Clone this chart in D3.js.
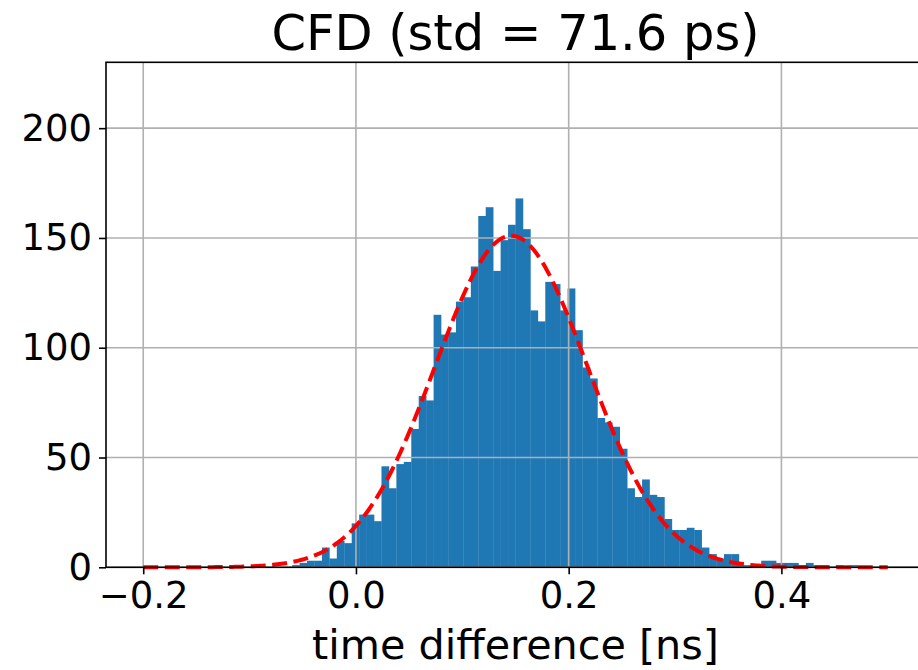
<!DOCTYPE html>
<html>
<head>
<meta charset="utf-8">
<script src="https://cdn.jsdelivr.net/npm/d3@7"></script>
<style>
  body { margin: 0; background: #fff; }
  text { font-family: "DejaVu Sans", sans-serif; fill: #000; }
</style>
</head>
<body>
<div id="chart"></div>
<script>
var w = 918;
var h = 670;

// histogram: 100 bins over [-0.2, 0.5] ns
var histRange = [-0.2, 0.5];
var counts = [
    0, 0, 0, 0, 0, 0, 0, 0, 0, 0,
    0, 0, 0, 0, 0, 1, 0, 0, 0, 0,
    1, 2, 3, 3, 9, 4, 12, 11, 20, 24,
    24, 21, 46, 36, 47, 48, 63, 78, 76, 115,
    106, 107, 121, 123, 137, 160, 164, 135, 149, 156,
    168, 154, 117, 112, 130, 129, 117, 127, 108, 91,
    86, 68, 66, 64, 54, 36, 32, 40, 33, 32,
    22, 17, 17, 18, 17, 9, 6, 4, 6, 6,
    1, 1, 1, 3, 3, 2, 2, 2, 0, 2,
    1, 1, 0, 1, 0, 1, 0, 0, 0, 0
];

// gaussian fit
var fitAmp = 151;
var fitMean = 0.146;
var fitSigma = 0.0716;

var xTicks = [-0.2, 0.0, 0.2, 0.4];
var yTicks = [0, 50, 100, 150, 200];
var title = "CFD (std = 71.6 ps)";
var xLabel = "time difference [ns]";

var margin = {left: 106, right: -7, top: 62.3, bottom: 102.7};

var x = d3.scaleLinear()
    .domain([-0.235, 0.535])
    .range([margin.left, w - margin.right]);

var y = d3.scaleLinear()
    .domain([0, 230])
    .range([h - margin.bottom, margin.top]);

var svg = d3.select("#chart")
    .append("svg")
    .attr("width", w)
    .attr("height", h);

var nBins = counts.length;
var bw = (histRange[1] - histRange[0]) / nBins;
var bins = counts.map(function(c, i) {
    return {x0: histRange[0] + i * bw, x1: histRange[0] + (i + 1) * bw, n: c};
});

// bars
svg.append("g")
    .selectAll("rect")
    .data(bins.filter(function(d) { return d.n > 0; }))
    .enter()
    .append("rect")
    .attr("x", function(d) { return x(d.x0); })
    .attr("width", function(d) { return x(d.x1) - x(d.x0) + 0.3; })
    .attr("y", function(d) { return y(d.n); })
    .attr("height", function(d) { return y(0) - y(d.n); })
    .style("fill", "#1f77b4");

// grid (drawn over the bars like matplotlib)
var grid = svg.append("g");
grid.selectAll(".gx")
    .data(xTicks)
    .enter()
    .append("line")
    .attr("x1", function(d) { return x(d); })
    .attr("x2", function(d) { return x(d); })
    .attr("y1", margin.top)
    .attr("y2", h - margin.bottom)
    .style("stroke", "#b0b0b0")
    .style("stroke-width", 1.6);
grid.selectAll(".gy")
    .data(yTicks)
    .enter()
    .append("line")
    .attr("x1", margin.left)
    .attr("x2", w - margin.right)
    .attr("y1", function(d) { return y(d); })
    .attr("y2", function(d) { return y(d); })
    .style("stroke", "#b0b0b0")
    .style("stroke-width", 1.6);

// fit curve
var fitX = d3.range(histRange[0], histRange[1] + 1e-9, 0.002);
var line = d3.line()
    .x(function(d) { return x(d); })
    .y(function(d) {
        return y(fitAmp * Math.exp(-Math.pow(d - fitMean, 2) / (2 * fitSigma * fitSigma)));
    });
svg.append("path")
    .datum(fitX)
    .attr("d", line)
    .style("fill", "none")
    .style("stroke", "#ff0000")
    .style("stroke-width", 4)
    .style("stroke-dasharray", "15,6.5");

// axes
var fmt = function(d) { return d3.format(".1f")(d).replace("-", "\u2212"); };

var xAxis = svg.append("g")
    .attr("transform", "translate(0," + (h - margin.bottom) + ")")
    .call(d3.axisBottom(x).tickValues(xTicks).tickFormat(fmt).tickSizeInner(7).tickSizeOuter(0).tickPadding(7));
var yAxis = svg.append("g")
    .attr("transform", "translate(" + margin.left + ",0)")
    .call(d3.axisLeft(y).tickValues(yTicks).tickSizeInner(7).tickSizeOuter(0).tickPadding(7));

[xAxis, yAxis].forEach(function(g) {
    g.select(".domain").remove();
    g.selectAll(".tick line").style("stroke", "#000").style("stroke-width", 1.6);
    g.selectAll(".tick text")
        .style("font-size", "37px")
        .style("font-family", "DejaVu Sans, sans-serif");
});

// frame
svg.append("rect")
    .attr("x", margin.left)
    .attr("y", margin.top)
    .attr("width", x.range()[1] - margin.left)
    .attr("height", y(0) - margin.top)
    .style("fill", "none")
    .style("stroke", "#000")
    .style("stroke-width", 1.6);

svg.append("text")
    .attr("x", (margin.left + x.range()[1]) / 2)
    .attr("y", 50)
    .attr("text-anchor", "middle")
    .style("font-size", "49.5px")
    .text(title);

svg.append("text")
    .attr("x", (margin.left + x.range()[1]) / 2)
    .attr("y", 659)
    .attr("text-anchor", "middle")
    .style("font-size", "41.3px")
    .text(xLabel);
</script>
</body>
</html>
